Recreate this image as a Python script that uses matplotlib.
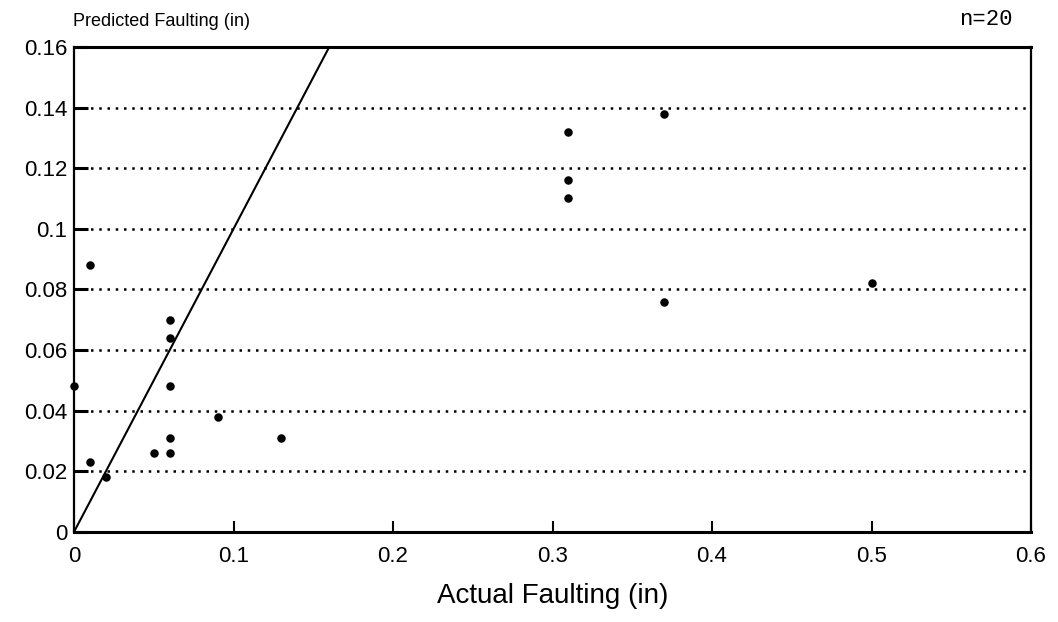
import numpy as np
import matplotlib
matplotlib.use("Agg")
import matplotlib.pyplot as plt

# values
actual = [0.0, 0.01, 0.01, 0.02, 0.05, 0.06, 0.06, 0.06, 0.06, 0.06,
          0.09, 0.13, 0.31, 0.31, 0.31, 0.37, 0.37, 0.50]
predicted = [0.048, 0.088, 0.023, 0.018, 0.026, 0.070, 0.064, 0.048, 0.031, 0.026,
             0.038, 0.031, 0.132, 0.116, 0.110, 0.138, 0.076, 0.082]
equal_line = [0.0, 0.16]
y_ticks = [0, 0.02, 0.04, 0.06, 0.08, 0.1, 0.12, 0.14, 0.16]
y_labels = ["0", "0.02", "0.04", "0.06", "0.08", "0.1", "0.12", "0.14", "0.16"]
x_ticks = [0, 0.1, 0.2, 0.3, 0.4, 0.5, 0.6]
x_labels = ["0", "0.1", "0.2", "0.3", "0.4", "0.5", "0.6"]

plt.rcParams['font.family'] = ['Liberation Sans', 'DejaVu Sans']

fig = plt.figure(figsize=(10.58, 6.22), dpi=100)
ax = fig.add_axes([0.070, 0.145, 0.9045, 0.7795])

for yv in y_ticks[1:-1]:
    ax.axhline(yv, color="black", linestyle=(0, (1, 2.3)), linewidth=1.8, zorder=1)

ax.plot(equal_line, equal_line, color="black", linewidth=1.5, zorder=2)
ax.scatter(actual, predicted, s=26, color="black", zorder=3, clip_on=False)

ax.set_xlim(0, 0.6)
ax.set_ylim(0, 0.16)
ax.set_xticks(x_ticks)
ax.set_xticklabels(x_labels)
ax.set_yticks(y_ticks)
ax.set_yticklabels(y_labels)
ax.tick_params(axis="both", direction="in", length=8, width=1.5, labelsize=16, colors="black")
ax.tick_params(axis="y", length=10, width=2.2, pad=5)
ax.tick_params(axis="x", pad=10)

for side, lw in [("top", 2.2), ("bottom", 2.2), ("left", 1.6), ("right", 1.6)]:
    ax.spines[side].set_linewidth(lw)
    ax.spines[side].set_color("black")

ax.set_xlabel("Actual Faulting (in)", fontsize=20, labelpad=12)
fig.text(0.069, 0.966, "Predicted Faulting (in)", fontsize=13, ha="left", va="center")
fig.text(0.957, 0.968, "n=20", fontsize=16, ha="right", va="center",
         family=["Liberation Mono", "DejaVu Sans Mono"])

fig.savefig("out.png", dpi=100, facecolor="white")
